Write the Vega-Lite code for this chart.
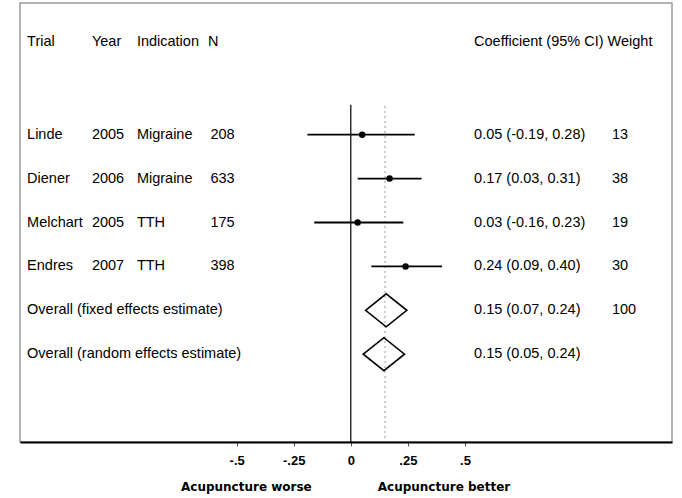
{
  "$schema": "https://vega.github.io/schema/vega-lite/v6.json",
  "width": 652,
  "height": 439,
  "autosize": {"type": "none"},
  "padding": {"left": 20, "top": 3, "right": 10, "bottom": 56},
  "background": "white",
  "config": {
    "view": {"stroke": "#9a9a9a", "strokeWidth": 1.5},
    "text": {"font": "Liberation Sans", "fontSize": 14.5, "color": "black"}
  },
  "datasets": {
    "rows": [
      {"row": 1, "label": "Linde", "year": "2005", "ind": "Migraine", "n": "208", "est": 0.05, "lo": -0.19, "hi": 0.28, "ci": "0.05 (-0.19, 0.28)", "weight": "13", "type": "study"},
      {"row": 2, "label": "Diener", "year": "2006", "ind": "Migraine", "n": "633", "est": 0.17, "lo": 0.03, "hi": 0.31, "ci": "0.17 (0.03, 0.31)", "weight": "38", "type": "study"},
      {"row": 3, "label": "Melchart", "year": "2005", "ind": "TTH", "n": "175", "est": 0.03, "lo": -0.16, "hi": 0.23, "ci": "0.03 (-0.16, 0.23)", "weight": "19", "type": "study"},
      {"row": 4, "label": "Endres", "year": "2007", "ind": "TTH", "n": "398", "est": 0.24, "lo": 0.09, "hi": 0.40, "ci": "0.24 (0.09, 0.40)", "weight": "30", "type": "study"},
      {"row": 5, "label": "Overall (fixed effects estimate)", "year": "", "ind": "", "n": "", "est": 0.155, "lo": 0.07, "hi": 0.24, "ci": "0.15 (0.07, 0.24)", "weight": "100", "type": "overall"},
      {"row": 6, "label": "Overall (random effects estimate)", "year": "", "ind": "", "n": "", "est": 0.145, "lo": 0.05, "hi": 0.24, "ci": "0.15 (0.05, 0.24)", "weight": "", "type": "overall"}
    ],
    "heads": [
      {"h": "Trial", "col": "trial"},
      {"h": "Year", "col": "year"},
      {"h": "Indication", "col": "ind"},
      {"h": "N", "col": "n"},
      {"h": "Coefficient (95% CI) Weight", "col": "ci"}
    ],
    "one": [{"k": 1}]
  },
  "layer": [
    {
      "data": {"name": "one"},
      "mark": {"type": "rule", "color": "black", "strokeWidth": 1.2},
      "encoding": {
        "x": {"datum": 0, "type": "quantitative", "scale": {"domain": [-1.449, 1.407], "nice": false, "zero": false},
          "axis": {"values": [-0.5, -0.25, 0, 0.25, 0.5], "labelExpr": "datum.value == -0.5 ? '-.5' : datum.value == -0.25 ? '-.25' : datum.value == 0 ? '0' : datum.value == 0.25 ? '.25' : '.5'", "title": null, "grid": false, "domainColor": "black", "domainWidth": 2, "tickColor": "#555", "tickSize": 4, "labelPadding": 8, "labelFont": "Liberation Sans", "labelFontSize": 13, "labelFontWeight": "bold", "labelColor": "black"}},
        "y": {"datum": 0.32, "type": "quantitative", "scale": {"domain": [-2, 8], "reverse": true, "nice": false, "zero": false}, "axis": null},
        "y2": {"datum": 8}
      }
    },
    {
      "data": {"name": "one"},
      "mark": {"type": "rule", "color": "#555", "strokeWidth": 1.2, "strokeDash": [1, 4]},
      "encoding": {
        "x": {"datum": 0.15, "type": "quantitative"},
        "y": {"datum": 0.36, "type": "quantitative"},
        "y2": {"datum": 8}
      }
    },
    {
      "data": {"name": "rows"},
      "transform": [{"filter": "datum.type == 'study'"}],
      "mark": {"type": "rule", "color": "black", "strokeWidth": 1.8},
      "encoding": {
        "x": {"field": "lo", "type": "quantitative"},
        "x2": {"field": "hi"},
        "y": {"field": "row", "type": "quantitative"}
      }
    },
    {
      "data": {"name": "rows"},
      "transform": [{"filter": "datum.type == 'study'"}],
      "mark": {"type": "point", "filled": true, "color": "black", "shape": "circle", "size": 42, "opacity": 1},
      "encoding": {
        "x": {"field": "est", "type": "quantitative"},
        "y": {"field": "row", "type": "quantitative"}
      }
    },
    {
      "data": {"name": "rows"},
      "transform": [{"filter": "datum.type == 'overall'"}],
      "mark": {"type": "point", "filled": false, "color": "black", "strokeWidth": 1.6, "shape": "M-1,0L0,-0.8L1,0L0,0.8Z", "size": 1700, "opacity": 1},
      "encoding": {
        "x": {"field": "est", "type": "quantitative"},
        "y": {"field": "row", "type": "quantitative"}
      }
    },
    {
      "data": {"name": "rows"},
      "mark": {"type": "text", "align": "left", "baseline": "middle"},
      "encoding": {"x": {"datum": -1.418, "type": "quantitative"}, "y": {"field": "row", "type": "quantitative"}, "text": {"field": "label"}}
    },
    {
      "data": {"name": "rows"},
      "mark": {"type": "text", "align": "left", "baseline": "middle"},
      "encoding": {"x": {"datum": -1.134, "type": "quantitative"}, "y": {"field": "row", "type": "quantitative"}, "text": {"field": "year"}}
    },
    {
      "data": {"name": "rows"},
      "mark": {"type": "text", "align": "left", "baseline": "middle"},
      "encoding": {"x": {"datum": -0.937, "type": "quantitative"}, "y": {"field": "row", "type": "quantitative"}, "text": {"field": "ind"}}
    },
    {
      "data": {"name": "rows"},
      "mark": {"type": "text", "align": "left", "baseline": "middle"},
      "encoding": {"x": {"datum": -0.615, "type": "quantitative"}, "y": {"field": "row", "type": "quantitative"}, "text": {"field": "n"}}
    },
    {
      "data": {"name": "rows"},
      "mark": {"type": "text", "align": "left", "baseline": "middle"},
      "encoding": {"x": {"datum": 0.540, "type": "quantitative"}, "y": {"field": "row", "type": "quantitative"}, "text": {"field": "ci"}}
    },
    {
      "data": {"name": "rows"},
      "mark": {"type": "text", "align": "left", "baseline": "middle"},
      "encoding": {"x": {"datum": 1.144, "type": "quantitative"}, "y": {"field": "row", "type": "quantitative"}, "text": {"field": "weight"}}
    },
    {
      "data": {"name": "heads"},
      "transform": [{"filter": "datum.col == 'trial'"}],
      "mark": {"type": "text", "align": "left", "baseline": "middle"},
      "encoding": {"x": {"datum": -1.418, "type": "quantitative"}, "y": {"datum": -1.12, "type": "quantitative"}, "text": {"field": "h"}}
    },
    {
      "data": {"name": "heads"},
      "transform": [{"filter": "datum.col == 'year'"}],
      "mark": {"type": "text", "align": "left", "baseline": "middle"},
      "encoding": {"x": {"datum": -1.134, "type": "quantitative"}, "y": {"datum": -1.12, "type": "quantitative"}, "text": {"field": "h"}}
    },
    {
      "data": {"name": "heads"},
      "transform": [{"filter": "datum.col == 'ind'"}],
      "mark": {"type": "text", "align": "left", "baseline": "middle"},
      "encoding": {"x": {"datum": -0.937, "type": "quantitative"}, "y": {"datum": -1.12, "type": "quantitative"}, "text": {"field": "h"}}
    },
    {
      "data": {"name": "heads"},
      "transform": [{"filter": "datum.col == 'n'"}],
      "mark": {"type": "text", "align": "left", "baseline": "middle"},
      "encoding": {"x": {"datum": -0.625, "type": "quantitative"}, "y": {"datum": -1.12, "type": "quantitative"}, "text": {"field": "h"}}
    },
    {
      "data": {"name": "heads"},
      "transform": [{"filter": "datum.col == 'ci'"}],
      "mark": {"type": "text", "align": "left", "baseline": "middle"},
      "encoding": {"x": {"datum": 0.540, "type": "quantitative"}, "y": {"datum": -1.12, "type": "quantitative"}, "text": {"field": "h"}}
    },
    {
      "data": {"name": "one"},
      "mark": {"type": "text", "align": "right", "baseline": "middle", "font": "DejaVu Sans", "fontWeight": "bold", "fontSize": 12, "text": "Acupuncture worse"},
      "encoding": {"x": {"datum": -0.171, "type": "quantitative"}, "y": {"datum": 9.02, "type": "quantitative"}}
    },
    {
      "data": {"name": "one"},
      "mark": {"type": "text", "align": "left", "baseline": "middle", "font": "DejaVu Sans", "fontWeight": "bold", "fontSize": 12, "text": "Acupuncture better"},
      "encoding": {"x": {"datum": 0.118, "type": "quantitative"}, "y": {"datum": 9.02, "type": "quantitative"}}
    }
  ]
}
